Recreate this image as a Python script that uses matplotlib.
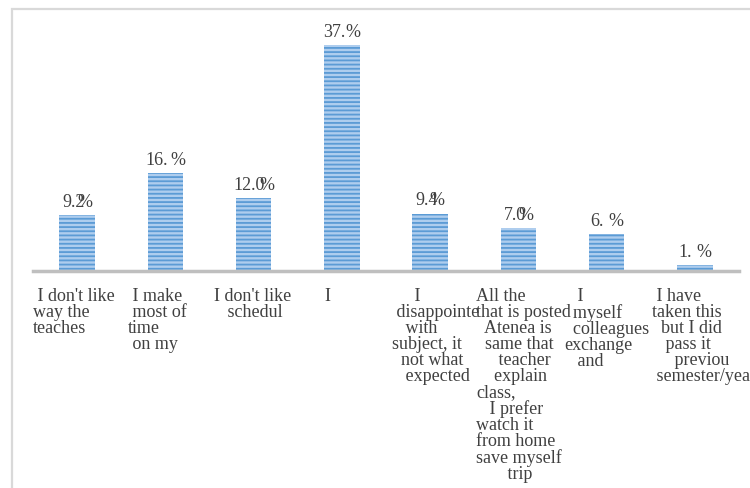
import matplotlib.pyplot as plt
from matplotlib.patches import Rectangle

plt.rcParams['font.family'] = ['Liberation Serif', 'DejaVu Serif']
plt.rcParams['hatch.linewidth'] = 1.3

categories = [
    " I don't like\nway the\nteaches",
    " I make\n most of\ntime\n on my",
    "I don't like\n   schedul",
    "I",
    "     I\n disappointe\n   with\nsubject, it\n  not what\n   expected",
    "All the\nthat is posted\n  Atenea is\n  same that\n     teacher\n    explain\nclass,\n   I prefer\nwatch it\nfrom home\nsave myself\n       trip",
    "   I\n  myself\n  colleagues\nexchange\n   and",
    " I have\ntaken this\n  but I did\n   pass it\n     previou\n semester/year",
]
values = [9.2, 16, 12, 37, 9.4, 7, 6, 1]
value_labels = ["9.2", "16.", "12.0", "37.", "9.4", "7.0", "6.", "1."]
# space between the number and its % sign, px (negative = overlapping)
pct_gap = [-8, 3, -6, 0, -8, -7, 5, 5]
# horizontal nudge of each category label, px
label_shift = [-3, -8, -1, -14, 5, 5, 0, 9]


def text_px(s):
    # rough advance width of a value label at 13 pt
    return sum(4.5 if c == '.' else 9.0 for c in s)


def plot():
    fig = plt.figure(figsize=(7.5, 4.88), dpi=100)
    ax = fig.add_axes([33 / 750, 1 - 271 / 488, 706 / 750, 244 / 488])

    x = list(range(len(values)))
    # striped fill: hatch lines take the edge colour
    ax.bar(x, values, width=0.4, color='#aecdee', edgecolor='#5b9bd5',
           linewidth=0, hatch='----', zorder=2)

    for xi, v, num, gap in zip(x, values, value_labels, pct_gap):
        wn = text_px(num)
        left = -(wn + gap + 15) / 2
        ax.annotate(num, (xi, v), xytext=((left + wn) * 0.72, 3),
                    textcoords='offset points', ha='right', va='bottom',
                    fontsize=13, color='#404040')
        ax.annotate('%', (xi, v), xytext=((left + wn + gap) * 0.72, 3),
                    textcoords='offset points', ha='left', va='bottom',
                    fontsize=13, color='#404040')

    # category names under the axis line
    for xi, name, dx in zip(x, categories, label_shift):
        ax.annotate(name, (xi, 0), xycoords=('data', 'axes fraction'),
                    xytext=(dx * 0.72, -12), textcoords='offset points',
                    ha='center', va='top', multialignment='left',
                    fontsize=13, color='#404040', linespacing=0.93,
                    annotation_clip=False)

    ax.set_xlim(-0.5, 7.5)
    ax.set_ylim(0, 40)
    ax.set_xticks([])
    ax.set_yticks([])

    for s in ['top', 'right', 'left']:
        ax.spines[s].set_visible(False)
    ax.spines['bottom'].set_color('#bfbfbf')
    ax.spines['bottom'].set_linewidth(2.5)
    ax.spines['bottom'].set_zorder(3)

    # chart area border, runs off the right and bottom edges
    fig.patches.append(Rectangle((11.5 / 750, -0.1), 1.0, 1.1 - 9 / 488,
                                 transform=fig.transFigure, fill=False,
                                 edgecolor='#d9d9d9', linewidth=1.6))

    fig.savefig('out.png', dpi=100)


if __name__ == '__main__':
    plot()
